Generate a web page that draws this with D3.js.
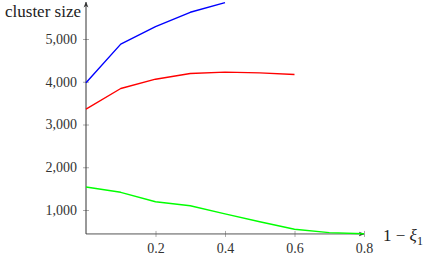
<!DOCTYPE html>
<html>
<head>
<meta charset="utf-8">
<script src="https://cdn.jsdelivr.net/npm/d3@7"></script>
<style>
  body { margin: 0; background: #fff; }
</style>
</head>
<body>
<div class="chart"></div>
<script>
var svgWidth = 431;
var svgHeight = 256;
var serif = "'Liberation Serif', 'Times New Roman', serif";

// x values (1 - xi_1)
var xValues = [0, 0.1, 0.2, 0.3, 0.4, 0.5, 0.6, 0.7, 0.8];
// series values (cluster size)
var blueValues = [3975, 4880, 5290, 5625, 5850];
var redValues = [3358, 3842, 4060, 4193, 4225, 4207, 4170];
var greenValues = [1538, 1414, 1194, 1100, 910, 726, 549, 470, 445];
// tick labels
var xTicks = [0.2, 0.4, 0.6, 0.8];
var yTicks = [1000, 2000, 3000, 4000, 5000];

var yMin = 440;
var yMax = 5850;

var svg = d3.select(".chart")
  .append("svg")
  .attr("width", svgWidth)
  .attr("height", svgHeight);

var xScale = d3.scaleLinear().domain([0, 0.8]).range([86, 364]);
var yScale = d3.scaleLinear().domain([1000, 5000]).range([210, 39]);

var x0 = xScale(0);
var yBase = yScale(yMin);

// arrow head
svg.append("defs").append("marker")
  .attr("id", "arrow")
  .attr("viewBox", "0 0 10 10")
  .attr("refX", 9)
  .attr("refY", 5)
  .attr("markerWidth", 6)
  .attr("markerHeight", 6)
  .attr("markerUnits", "userSpaceOnUse")
  .attr("orient", "auto")
  .append("path")
  .attr("d", "M0,1 L10,5 L0,9 L3,5 Z")
  .attr("fill", "#333");

// x axis
var bottomAxis = d3.axisBottom(xScale)
  .tickValues(xTicks)
  .tickFormat(d3.format(".1f"))
  .tickSize(6)
  .tickPadding(3);

var gx = svg.append("g")
  .attr("transform", "translate(0," + yBase + ")")
  .attr("font-family", serif)
  .attr("font-size", 14)
  .call(bottomAxis);
gx.attr("font-family", serif).attr("font-size", 14);
gx.select(".domain").remove();
gx.selectAll(".tick line").attr("y1", -3).attr("y2", 3).attr("stroke", "#aaa");
gx.selectAll(".tick text").attr("fill", "#333");

// y axis
var leftAxis = d3.axisLeft(yScale)
  .tickValues(yTicks)
  .tickFormat(d3.format(","))
  .tickSize(6)
  .tickPadding(3);

var gy = svg.append("g")
  .attr("transform", "translate(" + x0 + ",0)")
  .call(leftAxis);
gy.attr("font-family", serif).attr("font-size", 14);
gy.select(".domain").remove();
gy.selectAll(".tick line").attr("x1", 3).attr("x2", -3).attr("stroke", "#aaa");
gy.selectAll(".tick text").attr("fill", "#333");

// axis lines with arrows
svg.append("line")
  .attr("x1", x0).attr("y1", yBase)
  .attr("x2", xScale(0.8)).attr("y2", yBase)
  .attr("stroke", "#555").attr("stroke-width", 1)
  .attr("marker-end", "url(#arrow)");

svg.append("line")
  .attr("x1", x0).attr("y1", yBase)
  .attr("x2", x0).attr("y2", yScale(yMax) - 0.5)
  .attr("stroke", "#333").attr("stroke-width", 1)
  .attr("marker-end", "url(#arrow)");

// lines
var line = d3.line()
  .x(function(d, i) { return xScale(xValues[i]); })
  .y(function(d) { return yScale(d); });

var series = [
  { values: blueValues, color: "#0000ff" },
  { values: redValues, color: "#ff0000" },
  { values: greenValues, color: "#00ff00" }
];

svg.selectAll(".series")
  .data(series)
  .enter()
  .append("path")
  .attr("class", "series")
  .attr("fill", "none")
  .attr("stroke", function(d) { return d.color; })
  .attr("stroke-width", 1.4)
  .attr("stroke-linejoin", "round")
  .attr("d", function(d) { return line(d.values); });

// axis labels
svg.append("text")
  .attr("x", 5)
  .attr("y", 17)
  .attr("font-family", serif)
  .attr("fill", "#222")
  .style("font-size", "17px")
  .text("cluster size");

var xLabel = svg.append("text")
  .attr("x", 383)
  .attr("y", 241)
  .attr("font-family", serif)
  .attr("fill", "#222")
  .style("font-size", "17px");
xLabel.append("tspan").text("1 \u2212 ");
xLabel.append("tspan").style("font-style", "italic").text("\u03be");
xLabel.append("tspan").attr("dy", 4).style("font-size", "12px").text("1");
</script>
</body>
</html>
